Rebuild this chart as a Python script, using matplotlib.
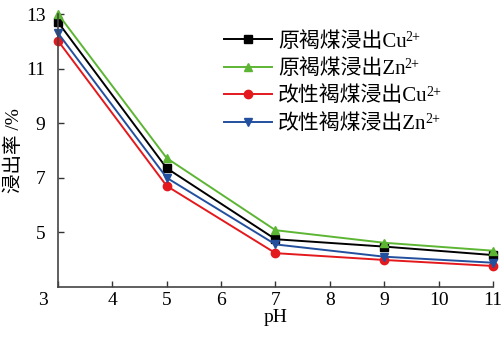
import matplotlib
matplotlib.use("Agg")
import matplotlib.pyplot as plt
from matplotlib.transforms import ScaledTranslation

plt.rcParams['font.family'] = ['Liberation Serif', 'Noto Sans CJK SC', 'DejaVu Serif']

ph = [3, 5, 7, 9, 11]
raw_cu = [12.70, 7.35, 4.75, 4.48, 4.17]
raw_zn = [13.00, 7.72, 5.08, 4.62, 4.33]
mod_cu = [12.02, 6.70, 4.24, 3.99, 3.77]
mod_zn = [12.30, 7.00, 4.56, 4.11, 3.89]

labels = ['原褐煤浸出Cu', '原褐煤浸出Zn', '改性褐煤浸出Cu', '改性褐煤浸出Zn']
charge = '2+'
xticks = [3, 4, 5, 6, 7, 8, 9, 10, 11]
yticks = [5, 7, 9, 11, 13]

fig = plt.figure(figsize=(5.03, 3.39), dpi=100)
ax = fig.add_axes([0.1153, 0.1534, 0.8647, 0.8053])

series = [(raw_cu, '#000000', 's'), (raw_zn, '#5db534', '^'),
          (mod_cu, '#e3191d', 'o'), (mod_zn, '#23509e', 'v')]
for (vals, c, m), lab in zip(series, labels):
    ax.plot(ph, vals, color=c, marker=m, lw=1.4, ms=6, label=lab, clip_on=False)

ax.set_xlim(3, 11)
ax.set_ylim(3, 13)
ax.set_xticks(xticks)
ax.set_yticks(yticks)
ax.tick_params(direction='in', labelsize=14, length=4, width=1, colors='#333333', labelcolor='black')
ax.tick_params(axis='y', pad=9)
ax.spines['top'].set_visible(False)
ax.spines['right'].set_visible(False)
for s in ['left', 'bottom']:
    ax.spines[s].set_color('#444444')
    ax.spines[s].set_linewidth(1.2)

ax.set_xlabel('pH', fontsize=14, labelpad=0)
ax.set_ylabel('浸出率 /%', fontsize=14, labelpad=2)

lbl = ax.get_xticklabels()[0]
lbl.set_transform(lbl.get_transform() + ScaledTranslation(-0.15, 0, fig.dpi_scale_trans))

leg = ax.legend(loc='upper left', bbox_to_anchor=(0.362, 0.965), frameon=False,
                fontsize=15, handlelength=2.3, labelspacing=0.36, handletextpad=0.3,
                borderaxespad=0)

fig.canvas.draw()
renderer = fig.canvas.get_renderer()
inv = fig.transFigure.inverted()
for t in leg.get_texts():
    bb = t.get_window_extent(renderer)
    x, y = inv.transform((bb.x1 - 1, bb.y1 + 1))
    fig.text(x, y, charge, fontsize=10, va='top', ha='left')

fig.savefig('out.png', dpi=100)
